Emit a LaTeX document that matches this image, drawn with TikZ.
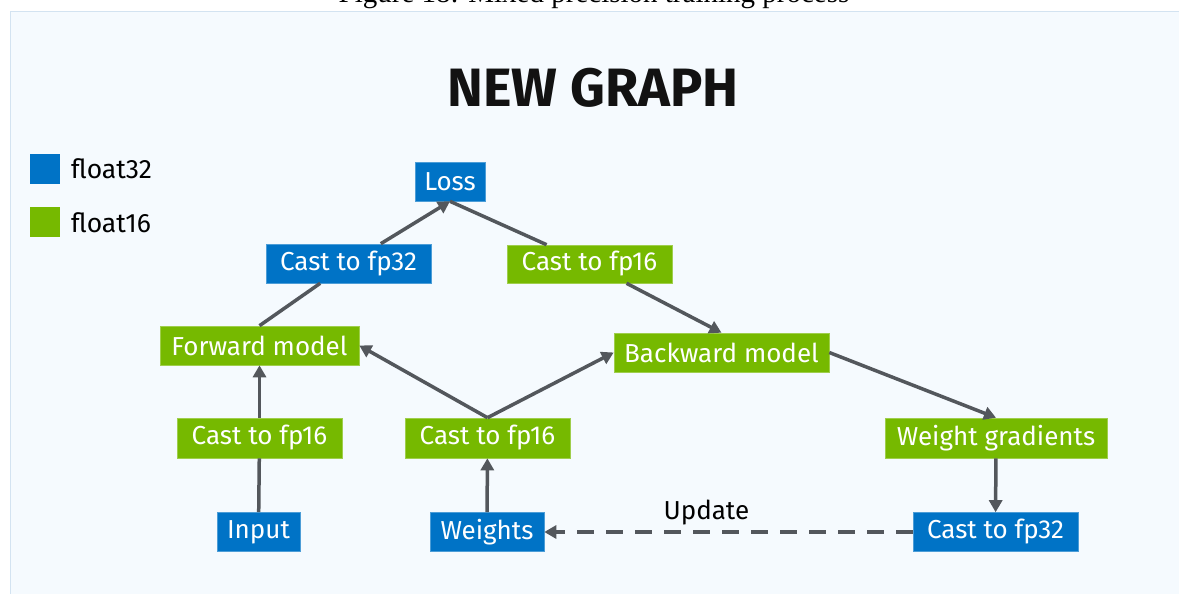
\documentclass[tikz,border=0pt]{standalone}
\usepackage{fontspec}
\setmainfont{Fira Sans}
\newfontfamily\capfont{Liberation Serif}
\usetikzlibrary{arrows.meta}
\definecolor{nvblue}{HTML}{0073C6}
\definecolor{nvgreen}{HTML}{76B900}
\definecolor{bgpanel}{HTML}{F5FAFE}
\definecolor{paneledge}{HTML}{D3E3F1}
\definecolor{conncol}{HTML}{53575C}
\tikzset{
  box/.style={rectangle, inner sep=0pt, minimum height=39pt, text=white,
    font=\fontsize{26}{30}\selectfont},
  bluebox/.style={box, fill=nvblue, draw=nvblue!70!white, line width=0.6pt},
  greenbox/.style={box, fill=nvgreen, draw=nvgreen!70!white, line width=0.6pt},
  conn/.style={draw=conncol, line width=3.5pt},
  arr/.style={-{Triangle[length=12pt,width=13pt]}},
  legendsq/.style={rectangle, inner sep=0pt, minimum width=30pt, minimum height=30pt},
  legendtxt/.style={anchor=west, inner sep=0pt, font=\fontsize{26.5}{30}\selectfont, text=black},
}
\begin{document}
\begin{tikzpicture}[x=1pt,y=-1pt]
\useasboundingbox (0,0) rectangle (1179,594);
% caption (cut off at the top edge, as in the reference)
\node[anchor=base, inner sep=0pt, font=\capfont\fontsize{29}{32}\selectfont] (caption) at (594,3) {Figure 18: Mixed precision training process};
% panel
\fill[bgpanel] (10.5,11.5) rectangle (1190,600);
\draw[paneledge, line width=1pt] (10.5,600) -- (10.5,11.5) -- (1190,11.5);
% title
\node[inner sep=0pt, font=\fontsize{54}{60}\selectfont\bfseries, text=black!93] (title) at (593,88) {NEW GRAPH};
% legend
\node[legendsq, fill=nvblue] (lb) at (45,168.5) {};
\node[legendtxt] (lbt) at (71,169) {float32};
\node[legendsq, fill=nvgreen] (lg) at (45,222) {};
\node[legendtxt] (lgt) at (71,222.5) {float16};
% nodes
\node[bluebox, minimum width=70pt] (loss) at (450,181.5) {Loss};
\node[bluebox, minimum width=165pt] (c32a) at (348.5,263.5) {Cast to fp32};
\node[greenbox, minimum width=165pt, minimum height=38pt] (c16a) at (589.5,264) {Cast to fp16};
\node[greenbox, minimum width=199pt] (fwd) at (259.5,345.5) {Forward model};
\node[greenbox, minimum width=215pt] (back) at (721.5,352.5) {Backward model};
\node[greenbox, minimum width=165pt, minimum height=40pt] (c16b) at (259.5,438) {Cast to fp16};
\node[greenbox, minimum width=165pt, minimum height=40pt] (c16c) at (487.5,438) {Cast to fp16};
\node[greenbox, minimum width=222pt, minimum height=40pt] (wg) at (996,438) {Weight gradients};
\node[bluebox, minimum width=83pt] (input) at (258.5,532) {Input};
\node[bluebox, minimum width=114pt] (weights) at (487,532) {Weights};
\node[bluebox, minimum width=165pt] (c32b) at (995.5,532) {Cast to fp32};
% connectors
\draw[conn] (input) -- (c16b);
\draw[conn,arr] (c16b) -- (fwd);
\draw[conn] (fwd.north) -- (c32a);
\draw[conn,arr] (c32a) -- (loss.south);
\draw[conn] (loss.south) -- (c16a);
\draw[conn,arr] (c16a) -- (back.north);
\draw[conn,arr] (c16c.north) -- (fwd.east);
\draw[conn,arr] (c16c.north) -- (back.west);
\draw[conn,arr] (weights) -- (c16c);
\draw[conn,arr] (back.east) -- (wg.north);
\draw[conn,arr] (wg) -- (c32b);
\draw[conn,arr,dash pattern=on 17pt off 12pt] (c32b) -- (weights)
  node[pos=0.56, above=5pt, inner sep=0pt, text=black, font=\fontsize{26}{30}\selectfont] (upd) {Update};
\end{tikzpicture}
\end{document}
